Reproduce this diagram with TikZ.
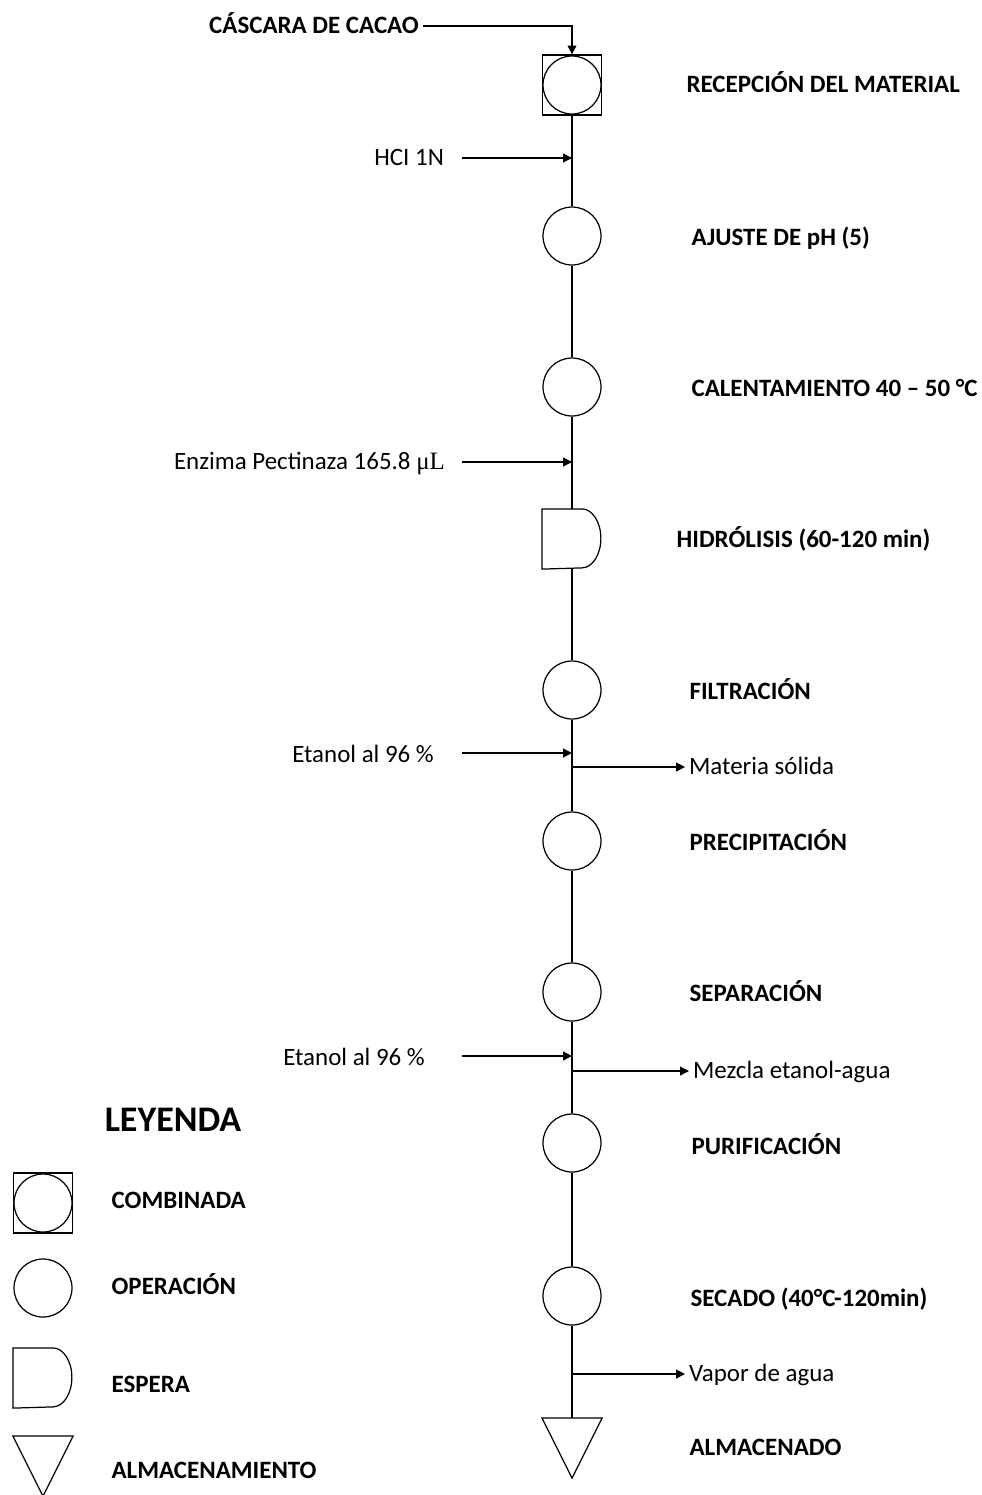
\documentclass[tikz,border=0pt]{standalone}
\usepackage{fontspec}
\setmainfont{Carlito}
\newfontfamily\unitfont{Liberation Serif}
\usepackage{tikz}
\usetikzlibrary{positioning,arrows.meta}
\tikzstyle{arrow} = [line width=0.7pt, -{Triangle[length=5pt,width=5pt]}]
\tikzstyle{opnode} = [circle, draw=black, line width=0.7pt, minimum size=1.16cm, inner sep=0pt]
\tikzstyle{combnode} = [rectangle, draw=black, line width=0.7pt, minimum width=1.18cm, minimum height=1.2cm, inner sep=0pt]
\tikzstyle{framenode} = [
    rectangle,                 % invisible frame
    minimum width=1.18cm,      % Width
    minimum height=1.18cm,     % Height
    inner sep=0pt
]
\tikzstyle{steplabel} = [anchor=west, inner sep=0pt, text height=12pt, text depth=3pt,
                         font=\fontsize{14.2}{16}\selectfont\bfseries]
\tikzstyle{flowlabel} = [inner sep=2pt, text height=12pt, text depth=3pt,
                         font=\fontsize{14.2}{16}\selectfont]

\begin{document}
\begin{tikzpicture}[x=0.02cm, y=-0.02cm, line width=0.7pt]
		\useasboundingbox (0,0) rectangle (981,1495);

		% Process steps
		\node[combnode] (rec) at (572,85) {};
		\node[opnode] (rec_op) at (572,85) {};
		\node[opnode] (ajuste) at (572,236) {};
		\node[opnode] (calen) at (572,387) {};
		\node[framenode] (hidro) at (572,539) {};
		\draw (hidro.north west) -- ++(0.8cm,0) arc[start angle=90, end angle=-90, x radius=0.38cm, y radius=0.59cm] -- (hidro.south west) -- cycle;
		\node[opnode] (filt) at (572,690) {};
		\node[opnode] (precip) at (572,841) {};
		\node[opnode] (separ) at (572,992) {};
		\node[opnode] (purif) at (572,1143) {};
		\node[opnode] (secado) at (572,1296) {};
		\node[framenode] (almac) at (572,1448) {};
		\draw (almac.north west) -- (almac.north east) -- (almac.south) -- cycle;

		% Step names
		\node[steplabel] (rec_t) at (686,85) {RECEPCIÓN DEL MATERIAL};
		\node[steplabel] (ajuste_t) at (691,238) {AJUSTE DE pH (5)};
		\node[steplabel] (calen_t) at (691,389) {CALENTAMIENTO 40 – 50 °C};
		\node[steplabel] (hidro_t) at (676,540) {HIDRÓLISIS (60-120 min)};
		\node[steplabel] (filt_t) at (689,692) {FILTRACIÓN};
		\node[steplabel] (precip_t) at (689,843) {PRECIPITACIÓN};
		\node[steplabel] (separ_t) at (689,994) {SEPARACIÓN};
		\node[steplabel] (purif_t) at (691,1147) {PURIFICACIÓN};
		\node[steplabel] (secado_t) at (690,1299) {SECADO (40°C-120min)};
		\node[steplabel] (almac_t) at (689,1448) {ALMACENADO};

		% Main line
		\draw (rec) -- (ajuste);
		\draw (ajuste) -- (calen);
		\draw (calen) -- (hidro);
		\draw (hidro) -- (filt);
		\draw (filt) -- (precip);
		\draw (precip) -- (separ);
		\draw (separ) -- (purif);
		\draw (purif) -- (secado);
		\draw (secado) -- (almac);

		% Inputs
		\node[flowlabel, anchor=east, font=\fontsize{14.2}{16}\selectfont\bfseries] (cascara) at (423,26) {CÁSCARA DE CACAO};
		\draw[arrow] (cascara.east) -| (rec.north);

		\coordinate (hcl_s) at (462,158);
		\coordinate (hcl_e) at (572,158);
		\node[flowlabel, anchor=east] (hcl) at (448,158) {HCI 1N};
		\draw[arrow] (hcl_s) -- (hcl_e);

		\coordinate (enz_s) at (462,462);
		\coordinate (enz_e) at (572,462);
		\node[flowlabel, anchor=east] (enz) at (449,462) {Enzima Pectinaza 165.8 {\unitfont μL}};
		\draw[arrow] (enz_s) -- (enz_e);

		\coordinate (et1_s) at (462,753);
		\coordinate (et1_e) at (572,753);
		\node[flowlabel, anchor=east] (et1) at (438,755) {Etanol al 96 \%};
		\draw[arrow] (et1_s) -- (et1_e);

		\coordinate (et2_s) at (462,1056);
		\coordinate (et2_e) at (572,1056);
		\node[flowlabel, anchor=east] (et2) at (429,1058) {Etanol al 96 \%};
		\draw[arrow] (et2_s) -- (et2_e);

		% Outputs
		\coordinate (sol_s) at (572,767);
		\node[flowlabel, anchor=west] (sol) at (685,767) {Materia sólida};
		\draw[arrow] (sol_s) -- (sol.west);

		\coordinate (mez_s) at (572,1071);
		\node[flowlabel, anchor=west] (mez) at (689,1071) {Mezcla etanol-agua};
		\draw[arrow] (mez_s) -- (mez.west);

		\coordinate (vap_s) at (572,1374);
		\node[flowlabel, anchor=west] (vap) at (685,1374) {Vapor de agua};
		\draw[arrow] (vap_s) -- (vap.west);

		% Legend
		\node[font=\fontsize{20.5}{24}\selectfont\bfseries] (leyenda) at (173,1120) {LEYENDA};
		\node[combnode] (leg_comb) at (43,1203) {};
		\node[opnode] (leg_comb_op) at (43,1203) {};
		\node[opnode] (leg_op) at (43,1288) {};
		\node[framenode] (leg_esp) at (43,1378) {};
		\draw (leg_esp.north west) -- ++(0.8cm,0) arc[start angle=90, end angle=-90, x radius=0.38cm, y radius=0.59cm] -- (leg_esp.south west) -- cycle;
		\node[framenode] (leg_alm) at (43,1466) {};
		\draw (leg_alm.north west) -- (leg_alm.north east) -- (leg_alm.south) -- cycle;

		\node[steplabel] (leg_comb_t) at (111,1201) {COMBINADA};
		\node[steplabel] (leg_op_t) at (111,1287) {OPERACIÓN};
		\node[steplabel] (leg_esp_t) at (111,1385) {ESPERA};
		\node[steplabel] (leg_alm_t) at (111,1471) {ALMACENAMIENTO};
	\end{tikzpicture}
\end{document}
